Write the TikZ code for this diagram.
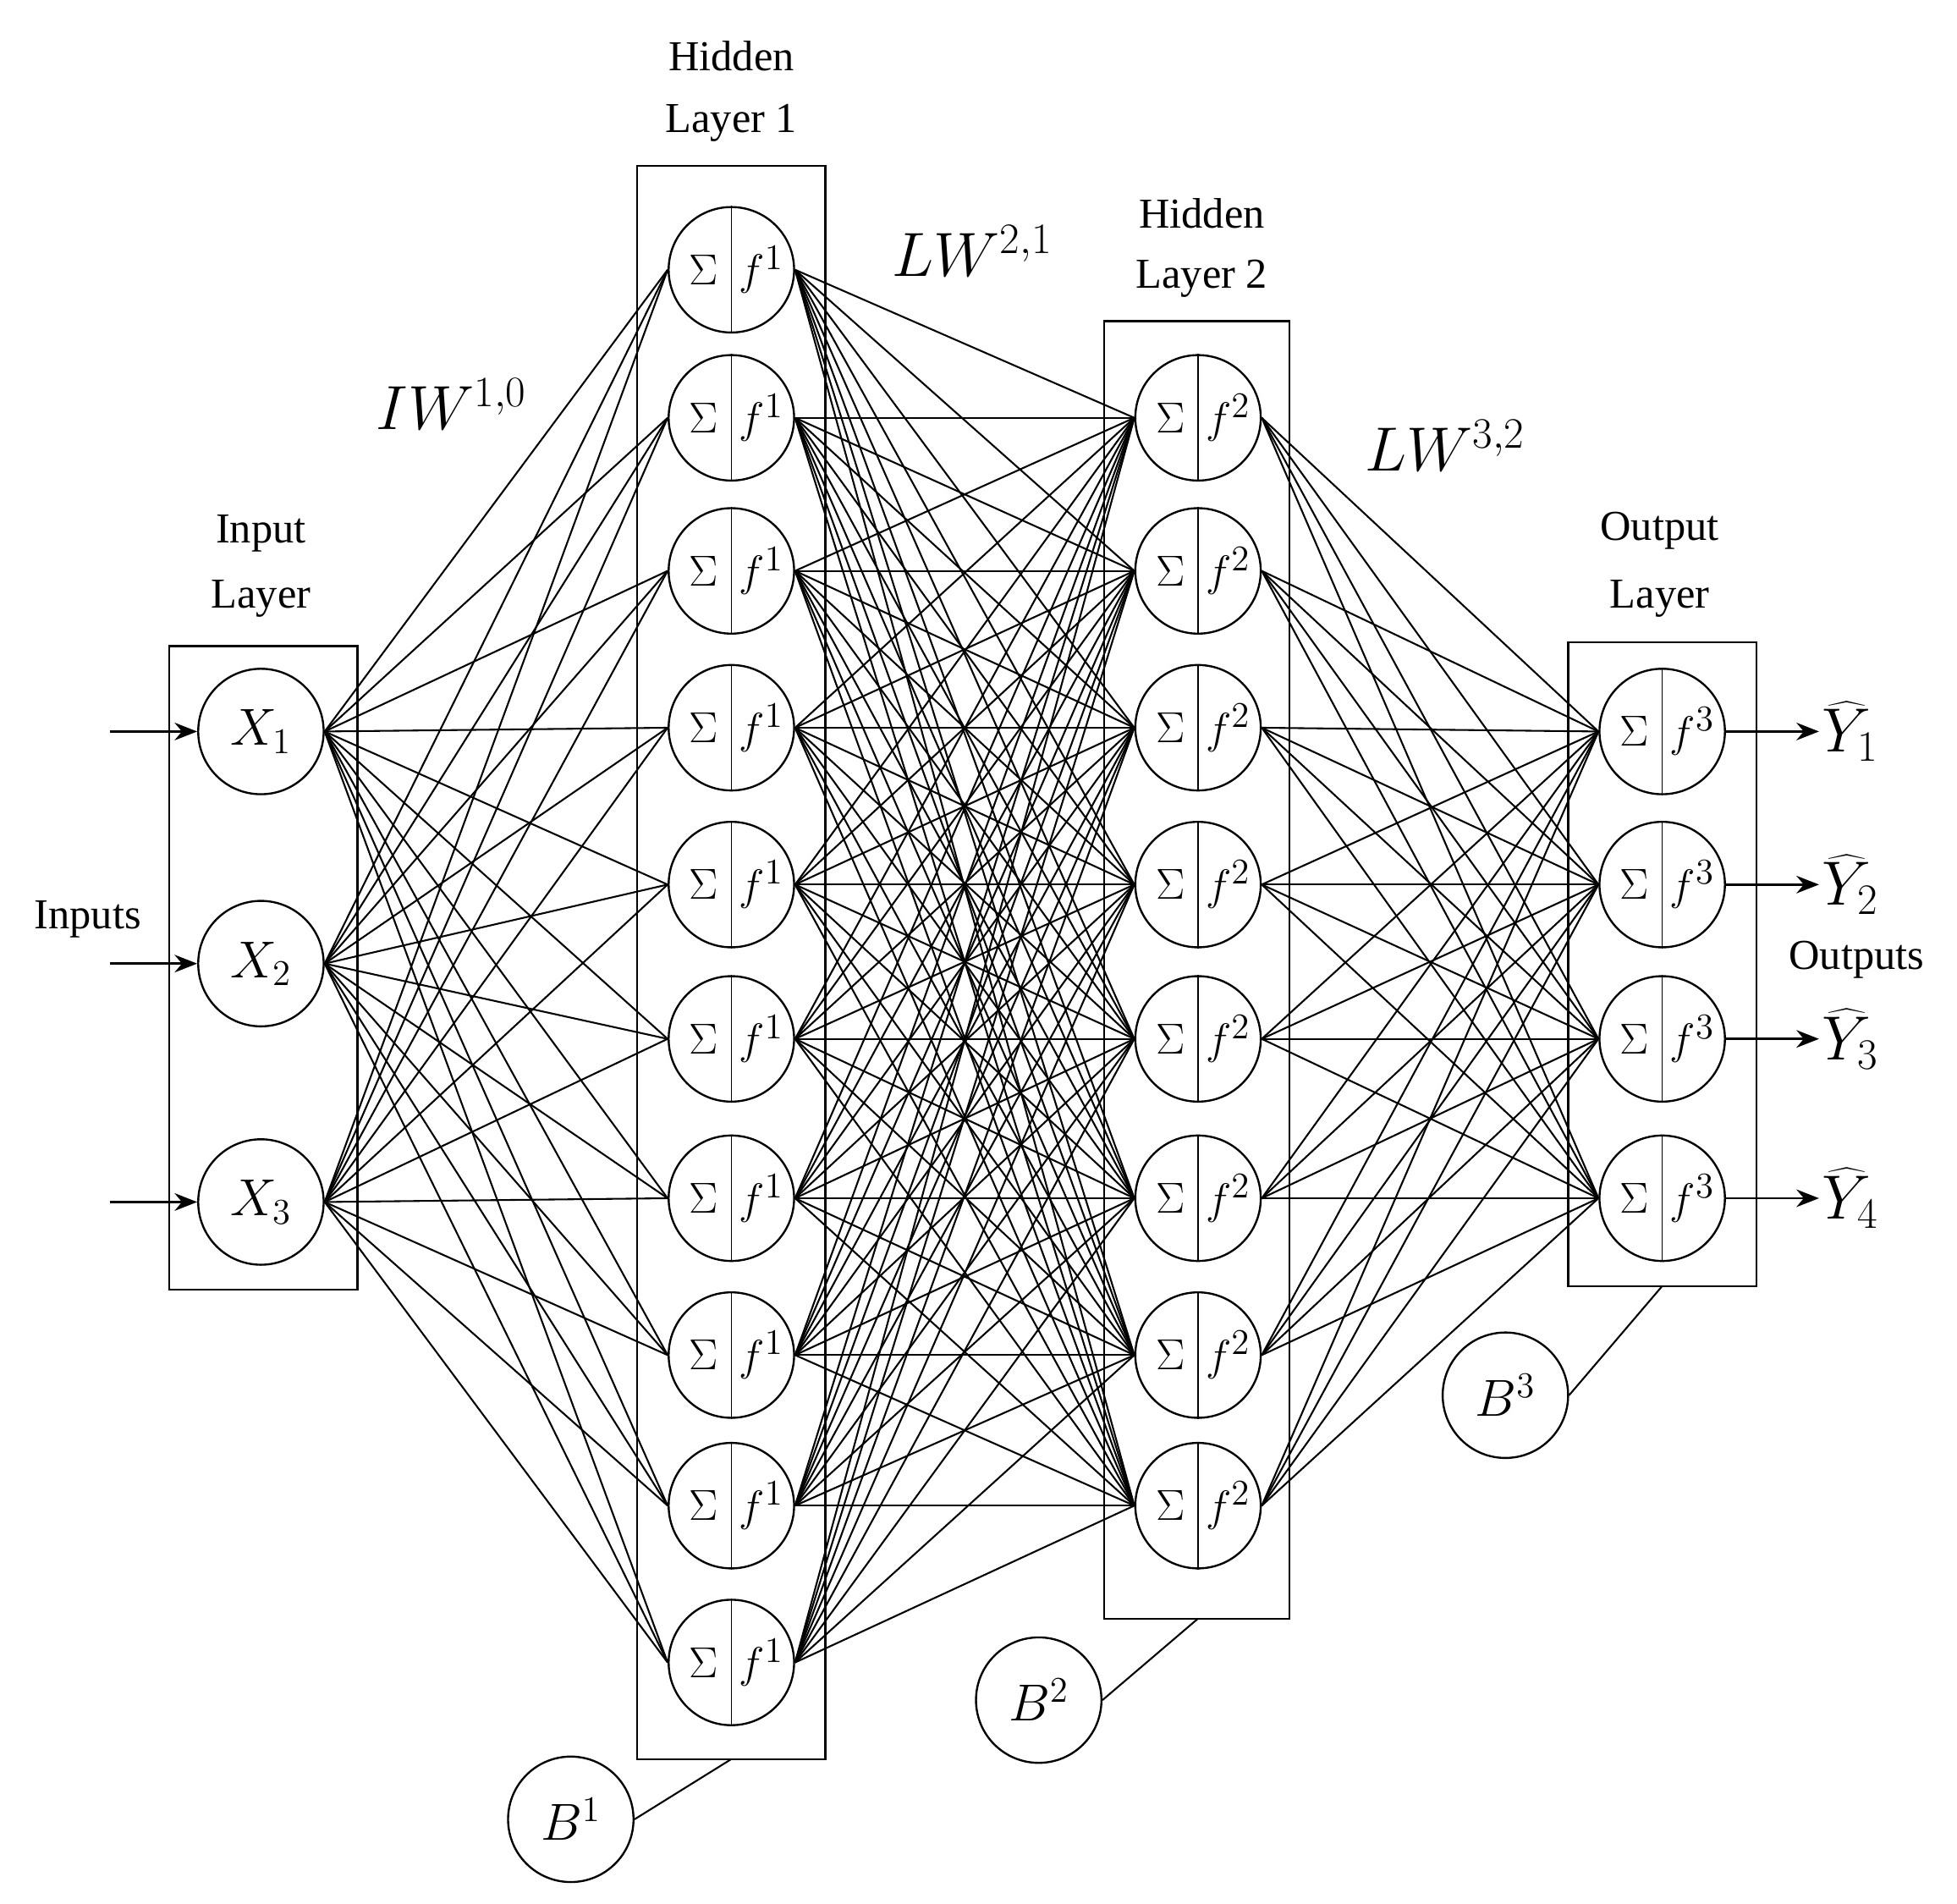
\documentclass[tikz,border=0pt]{standalone}
\usepackage{fontspec}
\setmainfont{Liberation Serif}
\usetikzlibrary{arrows.meta}
\begin{document}
\begin{tikzpicture}[x=0.5pt,y=-0.5pt,
  neuron/.style={circle,draw,line width=0.8pt,minimum size=50pt,inner sep=0pt},
  box/.style={draw,line width=0.8pt},
  edge/.style={line width=0.7pt},
  lbl/.style={font=\fontsize{17}{19}\selectfont,align=center},
  arr/.style={line width=1pt,-{Stealth[length=9pt,width=7pt]}}]
\useasboundingbox (0,0) rectangle (1560,1517);
% boxes
\draw[box] (135,515) rectangle (285,1028);
\draw[box] (508,132) rectangle (658,1402);
\draw[box] (880,256) rectangle (1028,1290);
\draw[box] (1250,512) rectangle (1400,1025);
\coordinate (b1a) at (583,1402);
\coordinate (b2a) at (955,1290);
\coordinate (b3a) at (1325,1025);
% labels
\node[lbl] at (208,425) {Input};
\node[lbl] at (208,477) {Layer};
\node[lbl] at (583,45) {Hidden};
\node[lbl] at (583,98) {Layer 1};
\node[lbl] at (958,170) {Hidden};
\node[lbl] at (958,222) {Layer 2};
\node[lbl] at (1323,423) {Output};
\node[lbl] at (1323,477) {Layer};
\node[lbl] at (70,733) {Inputs};
\node[lbl] at (1480,765) {Outputs};
\node[font=\fontsize{23}{25}\selectfont] at (360,322) {$IW^{1,0}$};
\node[font=\fontsize{23}{25}\selectfont] at (775,200) {$LW^{2,1}$};
\node[font=\fontsize{23}{25}\selectfont] at (1152,355) {$LW^{3,2}$};
% input nodes
\foreach \i/\y in {1/583,2/768,3/958}{
  \node[neuron,font=\fontsize{21}{23}\selectfont] (x\i) at (208,\y) {$X_{\i}$};
  \coordinate (in\i) at (88,\y);
  \draw[arr] (in\i) -- (x\i);
}
% split neurons
\newcommand{\splitneuron}[3]{%
  \node[neuron] (#1) at (#2) {};
  \draw[line width=0.6pt] (#1.north) -- (#1.south);
  \node[font=\fontsize{19}{21}\selectfont] at ([xshift=-11pt]#1.center) {$\Sigma$};
  \node[font=\fontsize{19}{21}\selectfont] at ([xshift=12pt]#1.center) {$f^{#3}$};
}
\foreach \i/\y in {1/215,2/333,3/455,4/580,5/705,6/828,7/955,8/1080,9/1200,10/1325}{
  \splitneuron{h\i}{583,\y}{1}
}
\foreach \i/\y in {1/333,2/455,3/580,4/705,5/828,6/955,7/1080,8/1200}{
  \splitneuron{g\i}{955,\y}{2}
}
\foreach \i/\y in {1/583,2/705,3/828,4/955}{
  \splitneuron{o\i}{1325,\y}{3}
  \node[font=\fontsize{23}{25}\selectfont,inner sep=1pt,anchor=west] (y\i) at (1450,\y) {$\widehat{Y}_{\i}$};
  \draw[arr] (o\i) -- (y\i.west);
}
% edges
\foreach \a in {1,2,3}{\foreach \b in {1,...,10}{\draw[edge] (x\a.east) -- (h\b.west);}}
\foreach \a in {1,...,10}{\foreach \b in {1,...,8}{\draw[edge] (h\a.east) -- (g\b.west);}}
\foreach \a in {1,...,8}{\foreach \b in {1,...,4}{\draw[edge] (g\a.east) -- (o\b.west);}}
% biases
\node[neuron,font=\fontsize{21}{23}\selectfont] (B1) at (455,1450) {$B^1$};
\node[neuron,font=\fontsize{21}{23}\selectfont] (B2) at (828,1355) {$B^2$};
\node[neuron,font=\fontsize{21}{23}\selectfont] (B3) at (1200,1112) {$B^3$};
\draw[edge] (B1.east) -- (b1a);
\draw[edge] (B2.east) -- (b2a);
\draw[edge] (B3.east) -- (b3a);
\end{tikzpicture}
\end{document}
